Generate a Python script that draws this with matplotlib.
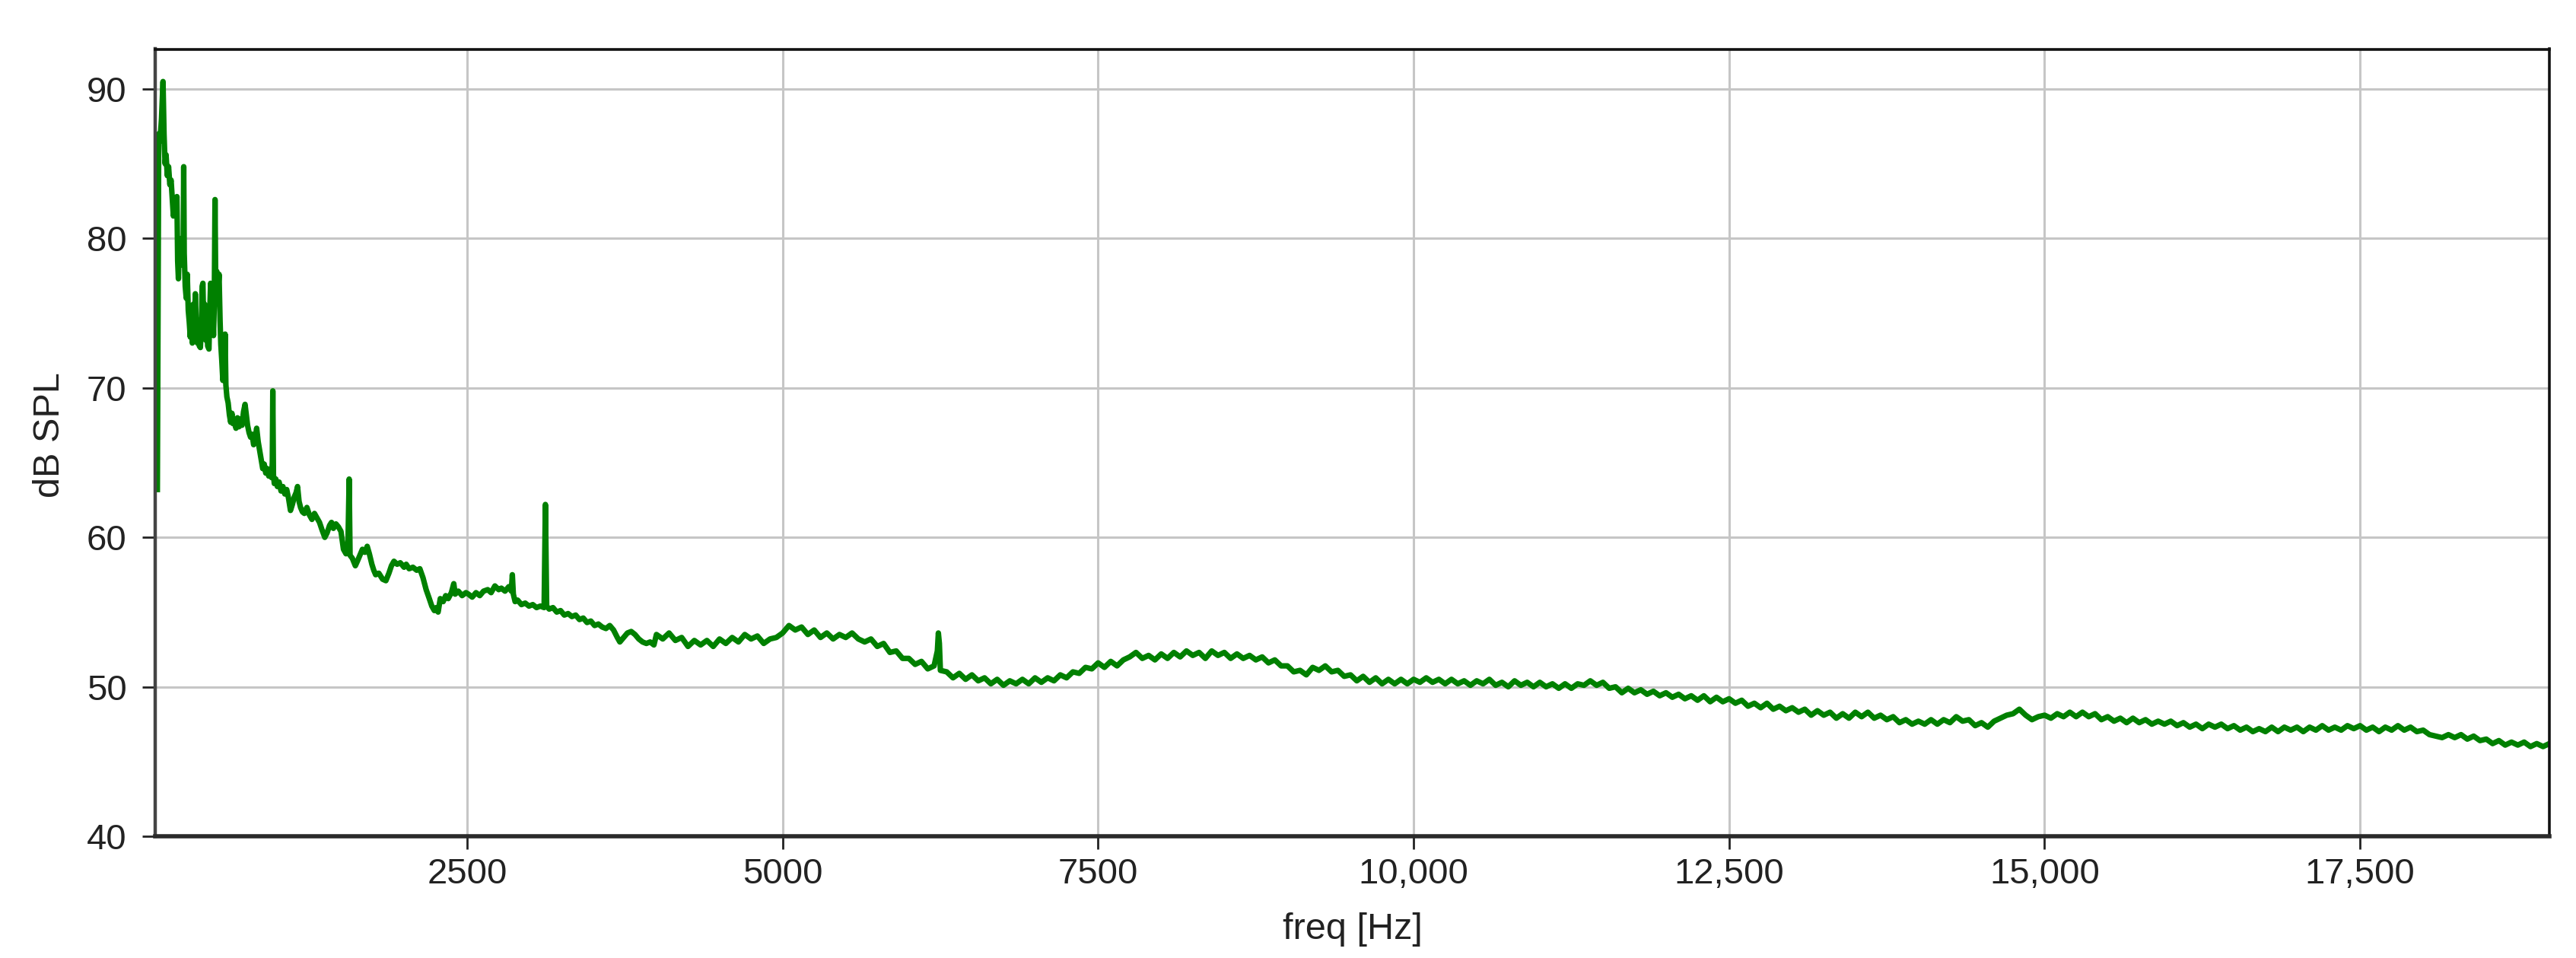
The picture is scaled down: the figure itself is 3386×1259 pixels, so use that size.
import numpy as np
import matplotlib
matplotlib.use("Agg")
import matplotlib.pyplot as plt
from matplotlib.ticker import FuncFormatter, FixedLocator

plt.rcParams['font.family'] = ['Liberation Sans', 'DejaVu Sans']

# ---- data: low-frequency part (explicit frequency / level pairs) ----
low_freq_hz = [
    45, 56, 66, 78, 90, 98, 106, 114, 124, 134, 144, 154, 164, 172, 182, 192, 200, 206, 212, 220,
    228, 236, 244, 250, 254, 258, 266, 274, 282, 290, 298, 306, 314, 322, 330, 338, 346, 354, 362, 370,
    378, 386, 394, 400, 406, 412, 420, 428, 436, 444, 454, 460, 467, 474, 482, 490, 496, 502, 508, 516,
    526, 534, 542, 548, 556, 564, 570, 576, 582, 588, 596, 606, 616, 626, 636, 646, 656, 668, 680, 692,
    704, 716, 728, 740, 750, 760, 772, 784, 796, 808, 820, 832, 844, 856, 868, 880, 892, 904, 916, 928,
    940, 950, 956, 960, 965, 972, 984, 996, 1010, 1025, 1040, 1055, 1070, 1085, 1100, 1115, 1130, 1145, 1156, 1168,
    1180, 1195, 1210, 1230, 1250, 1270, 1290, 1310, 1330, 1350, 1372, 1390, 1410, 1425, 1440, 1460, 1480, 1500, 1520, 1540,
    1555, 1565, 1572, 1590, 1614, 1630, 1650, 1670, 1690, 1708, 1725, 1745, 1760, 1775, 1800, 1830, 1856, 1880, 1900, 1920,
    1945, 1970, 2000, 2017, 2040, 2070, 2100, 2125, 2150, 2175, 2200, 2220, 2240, 2255, 2270, 2287, 2310, 2330, 2350, 2375,
    2394, 2405, 2430, 2460, 2490, 2510, 2540, 2570, 2600, 2630, 2663, 2690, 2720, 2750, 2771, 2800, 2830, 2850, 2858, 2866,
    2880, 2900, 2930, 2960, 2990, 3020, 3050, 3080, 3110, 3120, 3130, 3150, 3180, 3210, 3240, 3270, 3300, 3330, 3360, 3390,
    3420, 3450, 3480, 3510, 3540, 3570, 3600, 3630, 3660, 3690, 3710, 3740, 3770, 3800, 3830, 3860, 3890, 3920, 3950, 3980,
]
low_db = [
    63.2, 87.0, 86.5, 88.0, 90.5, 87.0, 85.0, 85.6, 84.2, 84.8, 83.6, 83.9, 82.6, 81.5, 82.4, 81.8, 82.8, 78.5, 77.3, 79.8,
    78.2, 80.0, 79.0, 79.6, 84.8, 79.0, 76.8, 76.0, 77.6, 75.2, 74.4, 73.4, 74.8, 73.0, 75.6, 73.4, 76.3, 74.0, 73.0, 74.5,
    72.8, 72.7, 74.0, 76.8, 77.0, 74.2, 75.6, 73.2, 74.8, 72.8, 72.6, 75.0, 77.0, 74.0, 76.0, 73.5, 75.5, 82.6, 76.5, 77.8,
    76.4, 77.6, 74.5, 72.9, 71.8, 70.5, 71.5, 70.8, 73.6, 70.2, 69.4, 69.0, 68.2, 67.7, 68.3, 67.6, 67.9, 67.3, 68.0, 67.4,
    67.9, 67.5, 68.4, 68.9, 68.2, 67.5, 67.0, 66.7, 66.9, 66.2, 66.6, 67.3, 66.4, 65.8, 65.2, 64.6, 64.9, 64.3, 64.6, 64.1,
    64.5, 64.0, 65.0, 69.8, 64.2, 63.6, 63.9, 63.4, 63.7, 63.1, 63.4, 62.9, 63.2, 62.6, 61.8, 62.2, 62.7, 63.0, 63.4, 62.4,
    62.0, 61.7, 61.6, 62.0, 61.5, 61.2, 61.6, 61.3, 61.0, 60.5, 60.0, 60.3, 60.8, 61.0, 60.6, 60.9, 60.7, 60.4, 59.2, 58.9,
    59.3, 63.9, 58.8, 58.6, 58.1, 58.4, 58.8, 59.2, 59.0, 59.4, 58.9, 58.2, 57.8, 57.5, 57.6, 57.2, 57.1, 57.6, 58.1, 58.4,
    58.2, 58.3, 58.0, 58.2, 57.9, 58.0, 57.8, 57.9, 57.3, 56.5, 55.9, 55.4, 55.1, 55.3, 55.0, 55.9, 55.7, 56.1, 55.9, 56.3,
    56.9, 56.2, 56.4, 56.1, 56.3, 56.2, 56.0, 56.3, 56.1, 56.4, 56.5, 56.3, 56.75, 56.5, 56.6, 56.4, 56.7, 56.4, 57.5, 56.2,
    55.7, 55.8, 55.5, 55.6, 55.4, 55.5, 55.3, 55.4, 55.3, 62.2, 55.4, 55.2, 55.3, 55.0, 55.1, 54.8, 54.9, 54.7, 54.8, 54.5,
    54.6, 54.3, 54.4, 54.1, 54.2, 54.0, 53.9, 54.1, 53.8, 53.3, 53.0, 53.3, 53.6, 53.7, 53.5, 53.2, 53.0, 52.9, 53.0, 52.8,
]

# ---- data: high-frequency part, spectrum bins every 50 Hz from 4000 Hz ----
hi_start_hz = 4000
hi_step_hz = 50
hi_db = [
    53.5, 53.2, 53.6, 53.1, 53.3, 52.7, 53.1, 52.8, 53.1, 52.7, 53.2, 52.9, 53.3, 53.0, 53.5, 53.2, 53.4, 52.9, 53.2, 53.3,
    53.6, 54.1, 53.8, 54.0, 53.5, 53.8, 53.3, 53.6, 53.2, 53.5, 53.3, 53.6, 53.2, 53.0, 53.2, 52.7, 52.9, 52.3, 52.4, 51.9,
    51.9, 51.5, 51.7, 51.2, 51.4, 51.1, 51.0, 50.6, 50.9, 50.5, 50.8, 50.4, 50.6, 50.2, 50.5, 50.1, 50.4, 50.2, 50.5, 50.2,
    50.6, 50.3, 50.6, 50.4, 50.8, 50.6, 51.0, 50.9, 51.3, 51.2, 51.6, 51.3, 51.7, 51.4, 51.8, 52.0, 52.3, 51.9, 52.1, 51.8,
    52.2, 51.9, 52.3, 52.0, 52.4, 52.1, 52.3, 51.9, 52.4, 52.1, 52.3, 51.9, 52.2, 51.9, 52.1, 51.8, 52.0, 51.6, 51.8, 51.4,
    51.4, 51.0, 51.1, 50.8, 51.3, 51.1, 51.4, 51.0, 51.1, 50.7, 50.8, 50.4, 50.7, 50.3, 50.6, 50.2, 50.5, 50.2, 50.5, 50.2,
    50.5, 50.3, 50.6, 50.3, 50.5, 50.2, 50.5, 50.2, 50.4, 50.1, 50.4, 50.2, 50.5, 50.1, 50.3, 50.0, 50.4, 50.1, 50.3, 50.0,
    50.3, 50.0, 50.2, 49.9, 50.2, 49.9, 50.2, 50.1, 50.4, 50.1, 50.3, 49.9, 50.0, 49.6, 49.9, 49.6, 49.8, 49.5, 49.7, 49.4,
    49.6, 49.3, 49.5, 49.2, 49.4, 49.1, 49.4, 49.0, 49.3, 49.0, 49.2, 48.9, 49.1, 48.7, 48.9, 48.6, 48.9, 48.5, 48.7, 48.4,
    48.6, 48.3, 48.5, 48.1, 48.4, 48.1, 48.3, 47.9, 48.2, 47.9, 48.3, 48.0, 48.3, 47.9, 48.1, 47.8, 48.0, 47.6, 47.8, 47.5,
    47.7, 47.5, 47.8, 47.5, 47.8, 47.6, 48.0, 47.7, 47.8, 47.4, 47.6, 47.3, 47.7, 47.9, 48.1, 48.2, 48.5, 48.1, 47.8, 48.0,
    48.1, 47.9, 48.2, 48.0, 48.3, 48.0, 48.3, 48.0, 48.2, 47.8, 48.0, 47.7, 47.9, 47.6, 47.9, 47.6, 47.8, 47.5, 47.7, 47.5,
    47.7, 47.4, 47.6, 47.3, 47.5, 47.2, 47.5, 47.3, 47.5, 47.2, 47.4, 47.1, 47.3, 47.0, 47.2, 47.0, 47.3, 47.0, 47.3, 47.1,
    47.3, 47.0, 47.3, 47.1, 47.4, 47.1, 47.3, 47.1, 47.4, 47.2, 47.4, 47.1, 47.3, 47.0, 47.3, 47.1, 47.4, 47.1, 47.3, 47.0,
    47.1, 46.8, 46.7, 46.6, 46.8, 46.6, 46.8, 46.5, 46.7, 46.4, 46.5, 46.2, 46.4, 46.1, 46.3, 46.1, 46.3, 46.0, 46.2, 46.0,
    46.2,
]

# narrow tonal peak inside the high-frequency part
tone_freq_hz = [6226, 6234, 6242]
tone_db = [52.4, 53.6, 52.9]

x_ticks = [2500, 5000, 7500, 10000, 12500, 15000, 17500]
y_ticks = [40, 50, 60, 70, 80, 90]
x_label = "freq [Hz]"
y_label = "dB SPL"

# ---- assemble ----
hi_freq_hz = hi_start_hz + hi_step_hz * np.arange(len(hi_db))
freq = np.concatenate([np.array(low_freq_hz, dtype=float), hi_freq_hz.astype(float),
                       np.array(tone_freq_hz, dtype=float)])
level = np.concatenate([np.array(low_db), np.array(hi_db), np.array(tone_db)])
order = np.argsort(freq, kind="stable")
freq, level = freq[order], level[order]

W, H, DPI = 3386, 1259, 200
fig = plt.figure(figsize=(W / DPI, H / DPI), dpi=DPI)
fig.patch.set_facecolor("white")

ax = fig.add_axes([204 / W, 1 - 1099 / H, (3351 - 204) / W, (1099 - 64.5) / H])
ax.plot(freq, level, color="#008000", linewidth=2.6, solid_joinstyle="round")

ax.set_xlim(28, 19000)
ax.set_ylim(40, 92.67)

ax.xaxis.set_major_locator(FixedLocator(x_ticks))
ax.yaxis.set_major_locator(FixedLocator(y_ticks))
ax.xaxis.set_major_formatter(FuncFormatter(lambda v, p: f"{v:,.0f}" if v >= 10000 else f"{v:.0f}"))
ax.yaxis.set_major_formatter(FuncFormatter(lambda v, p: f"{v:.0f}"))

ax.set_axisbelow(True)
ax.grid(True, color="#c6c6c6", linewidth=1.1)

ax.tick_params(axis="both", labelsize=17, colors="#222222", length=6, width=1.0)
ax.tick_params(axis="x", pad=4)
ax.tick_params(axis="y", pad=7.5)

ax.spines["left"].set_linewidth(1.6)
ax.spines["left"].set_color("#444444")
ax.spines["bottom"].set_linewidth(2.0)
ax.spines["bottom"].set_color("#2a2a2a")
ax.spines["top"].set_linewidth(1.3)
ax.spines["top"].set_color("#111111")
ax.spines["right"].set_linewidth(1.3)
ax.spines["right"].set_color("#111111")

ax.set_xlabel(x_label, fontsize=17.5, color="#222222")
ax.set_ylabel(y_label, fontsize=17.5, color="#222222")
ax.xaxis.set_label_coords(0.5, (1099 - 1222) / (1099 - 64.5))
ax.xaxis.label.set_va("center")
ax.yaxis.set_label_coords((66 - 204) / (3351 - 204), 0.51)
ax.yaxis.label.set_va("center")
ax.yaxis.label.set_ha("center")

fig.savefig("out.png", dpi=DPI, facecolor="white")
